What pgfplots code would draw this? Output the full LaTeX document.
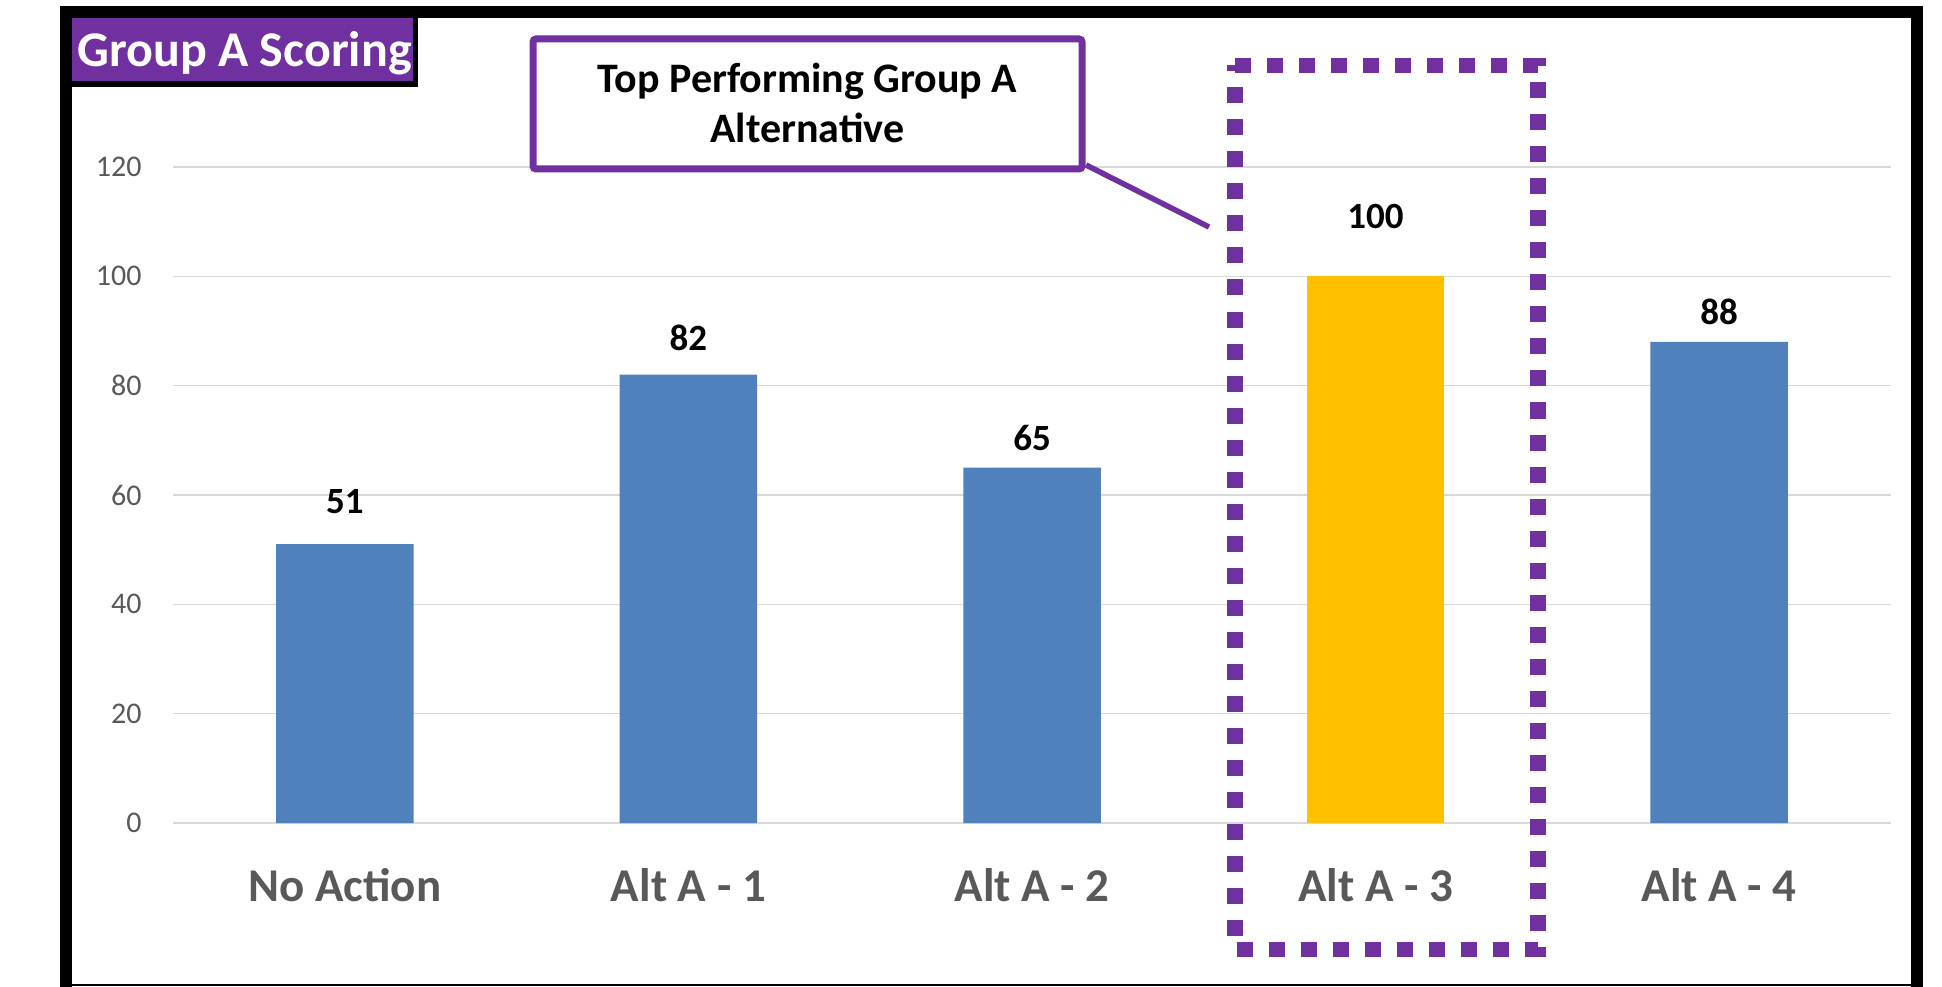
\documentclass[border=0pt]{standalone}
\usepackage{pgfplots}
\pgfplotsset{compat=1.18}
\usepackage{fontspec}
\setmainfont{Carlito}
\definecolor{barblue}{RGB}{79,129,189}
\definecolor{baryellow}{RGB}{255,192,0}
\definecolor{purp}{RGB}{112,48,160}
\definecolor{gridgray}{RGB}{217,217,217}
\definecolor{labgray}{RGB}{89,89,89}
\begin{document}
\begin{tikzpicture}
\begin{axis}[
  at={(0pt,0pt)}, anchor=south west,
  scale only axis, width=859pt, height=328pt,
  xmin=-0.5, xmax=4.5, ymin=0, ymax=120,
  ytick={0,20,40,60,80,100,120},
  xtick={0,1,2,3,4},
  xticklabels={No Action, Alt A - 1, Alt A - 2, Alt A - 3, Alt A - 4},
  ymajorgrids, grid style={draw=gridgray, line width=0.7pt},
  axis line style={draw=none},
  major tick length=0pt,
  clip=false,
  /pgf/number format/assume math mode=true,
  yticklabel style={font=\fontsize{15}{18}\selectfont, text=labgray, anchor=east, inner sep=0pt, xshift=-15.5pt},
  xticklabel style={font=\fontsize{23.5}{28}\selectfont\bfseries, text=labgray, anchor=base, inner sep=0pt, yshift=-39pt},
  ybar=0pt, bar width=68.75pt,
]
\addplot[bar shift=0pt, fill=barblue, draw=none] coordinates {(0,51) (1,82) (2,65) (4,88)};
\addplot[bar shift=0pt, fill=baryellow, draw=none] coordinates {(3,100)};
\addplot[draw=none, mark=none, sharp plot, nodes near coords, point meta=explicit symbolic,
  nodes near coords style={anchor=base, inner sep=0pt, font=\fontsize{18.5}{22}\selectfont\bfseries, text=black}]
  coordinates {(0,56.7)[51] (1,86.5)[82] (2,68.2)[65] (3,108.8)[100] (4,91.1)[88]};
\end{axis}
% outer frame
\draw[line width=6pt, black] (-53.5pt,-95pt) -- (-53.5pt,405.5pt) -- (872pt,405.5pt) -- (872pt,-95pt);
\draw[line width=0.8pt, black] (-53.5pt,-81.1pt) -- (872pt,-81.1pt);
% title box
\fill[black] (-56.5pt,368pt) rectangle (122.5pt,408pt);
\fill[purp] (-50.5pt,371pt) rectangle (120pt,402.5pt);
\node[anchor=base west, inner sep=0pt, text=white, font=\fontsize{25}{30}\selectfont\bfseries] at (-48pt,378pt) {Group A Scoring};
% callout
\draw[purp, line width=2.75pt] (456.5pt,329pt) -- (518pt,298pt);
\draw[purp, line width=3.5pt, fill=white, rounded corners=1.5pt] (180pt,327pt) rectangle (454.5pt,392pt);
\node[anchor=base, inner sep=0pt, font=\fontsize{21}{25}\selectfont\bfseries] at (317.25pt,365pt) {Top Performing Group A};
\node[anchor=base, inner sep=0pt, font=\fontsize{21}{25}\selectfont\bfseries] at (317.25pt,340pt) {Alternative};
% dotted highlight
\draw[purp, line width=7.75pt, dash pattern=on 8pt off 8pt] (531pt,378.75pt) -- (682.5pt,378.75pt) -- (682.5pt,-63.25pt) -- (531pt,-63.25pt) -- cycle;
\pgfresetboundingbox
\path[use as bounding box] (-86.5pt,-81.5pt) rectangle (884.5pt,411.5pt);
\end{tikzpicture}
\end{document}
